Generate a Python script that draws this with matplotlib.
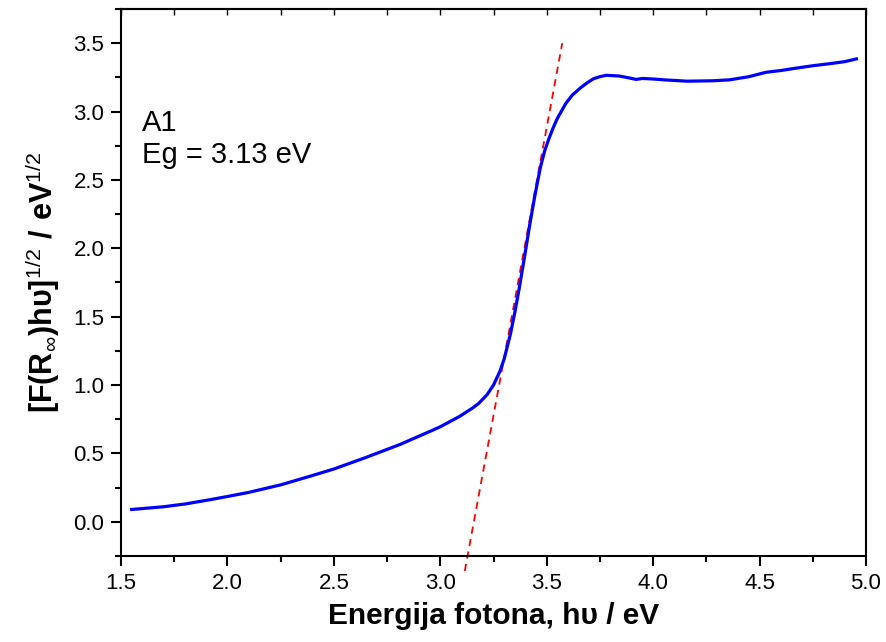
import numpy as np
import matplotlib
matplotlib.use("Agg")
import matplotlib.pyplot as plt
from matplotlib.ticker import MultipleLocator

plt.rcParams["font.family"] = ["Liberation Sans", "DejaVu Sans"]
plt.rcParams["mathtext.fontset"] = "custom"
plt.rcParams["mathtext.rm"] = "Liberation Sans"
plt.rcParams["mathtext.bf"] = "Liberation Sans:bold"

# Tauc plot data
energy = [1.55, 1.70, 1.80, 1.92, 2.00, 2.10, 2.25, 2.39, 2.50, 2.65, 2.81, 2.95,
          3.00, 3.09, 3.15, 3.18, 3.22, 3.25, 3.28, 3.30, 3.33, 3.35, 3.37, 3.395,
          3.42, 3.445, 3.47, 3.49, 3.51, 3.53, 3.55, 3.59, 3.62, 3.66, 3.69, 3.72,
          3.75, 3.78, 3.84, 3.89, 3.92, 3.95, 4.00, 4.05, 4.16, 4.28, 4.36, 4.45,
          4.53, 4.60, 4.67, 4.75, 4.83, 4.90, 4.955]
kubelka = [0.09, 0.11, 0.13, 0.162, 0.185, 0.215, 0.27, 0.334, 0.386, 0.47, 0.565, 0.66,
           0.695, 0.77, 0.83, 0.865, 0.93, 1.00, 1.10, 1.19, 1.376, 1.53, 1.70, 1.93,
           2.17, 2.39, 2.59, 2.71, 2.80, 2.88, 2.95, 3.06, 3.12, 3.175, 3.21, 3.24,
           3.255, 3.265, 3.26, 3.245, 3.235, 3.242, 3.238, 3.232, 3.222, 3.225, 3.232, 3.255,
           3.287, 3.30, 3.317, 3.335, 3.35, 3.365, 3.385]

# tangent (linear fit of the absorption edge)
tangent_x = [3.115, 3.573]
tangent_y = [-0.36, 3.50]

fig = plt.figure(figsize=(8.86, 6.42), dpi=100)
ax = fig.add_axes([0.1366, 0.134, 0.8408, 0.852])

ax.plot(energy, kubelka, color="#0000ff", lw=2.3, zorder=3)
ax.plot(tangent_x, tangent_y, color="#ff0000", lw=1.3, ls=(0, (4, 3)),
        clip_on=False, zorder=2)

ax.set_xlim(1.5, 5.0)
ax.set_ylim(-0.25, 3.75)

ax.xaxis.set_major_locator(MultipleLocator(0.5))
ax.xaxis.set_minor_locator(MultipleLocator(0.25))
ax.yaxis.set_major_locator(MultipleLocator(0.5))
ax.yaxis.set_minor_locator(MultipleLocator(0.25))
ax.xaxis.set_major_formatter(plt.FormatStrFormatter("%.1f"))
ax.yaxis.set_major_formatter(plt.FormatStrFormatter("%.1f"))

ax.tick_params(which="major", direction="out", length=7, width=1.5, pad=5,
               labelsize=16, top=False, right=False)
ax.tick_params(which="minor", direction="out", length=4, width=1.5,
               top=False, right=False)

# top axis: small inward ticks, no labels
top = ax.secondary_xaxis("top")
top.set_xticks(np.arange(1.5, 5.01, 0.25))
top.tick_params(direction="in", length=4, width=1.0, labeltop=False)
top.spines["top"].set_linewidth(1.5)

for s in ax.spines.values():
    s.set_linewidth(1.5)

ax.set_xlabel("Energija fotona, h\u03c5 / eV", fontsize=21.5, fontweight="bold",
              labelpad=6)
ax.set_ylabel(r"$\mathbf{[F(R}_{\infty}\mathbf{)h\upsilon]}^{1/2}\mathbf{\ /\ eV}^{1/2}$",
              fontsize=22, labelpad=8)

ax.text(0.028, 0.817, "A1\nEg = 3.13 eV", transform=ax.transAxes,
        fontsize=21, va="top", ha="left", linespacing=1.2)

fig.savefig("out.png", dpi=100)
